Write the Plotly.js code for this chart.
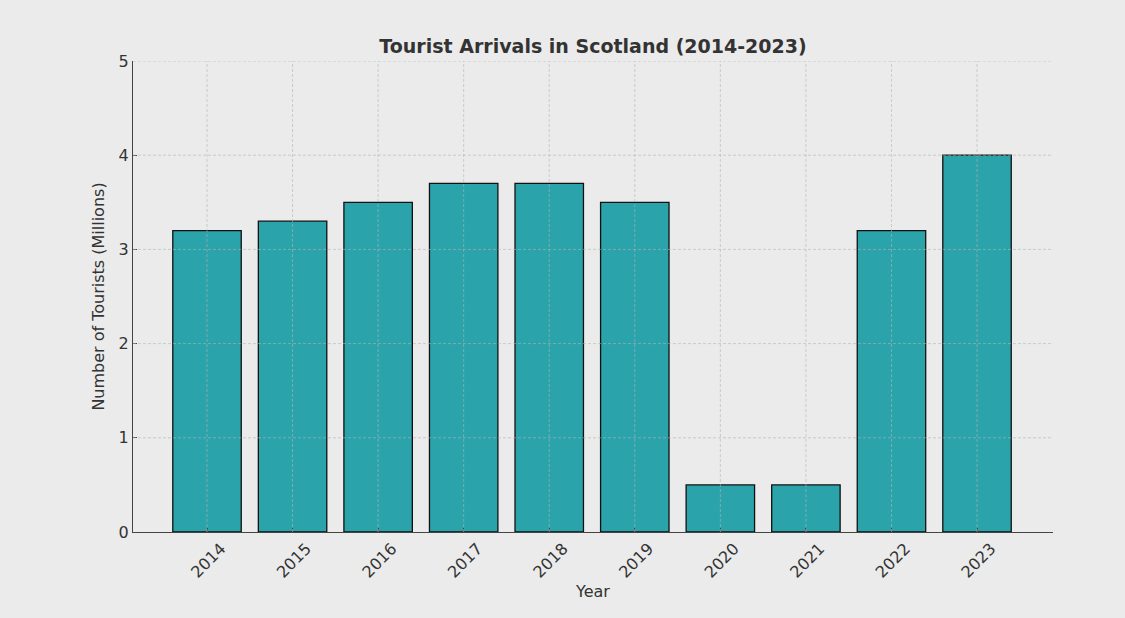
<!DOCTYPE html>
<html>
<head>
<meta charset="utf-8">
<script src="https://cdn.plot.ly/plotly-3.0.1.min.js"></script>
<style>html,body{margin:0;padding:0;background:#ebebeb;}</style>
</head>
<body>
<div id="chart" style="width:1125px;height:618px;"></div>
<script>
const years = ["2014","2015","2016","2017","2018","2019","2020","2021","2022","2023"];
const tourists = [3.2, 3.3, 3.5, 3.7, 3.7, 3.5, 0.5, 0.5, 3.2, 4.0];
const yTicks = [0, 1, 2, 3, 4, 5];

const gridStyle = {color: "rgba(180,180,180,0.6)", width: 1, dash: "3px,2px"};
const shapes = [];
years.forEach((y, i) => shapes.push({type: "line", xref: "x", yref: "paper", x0: i, x1: i, y0: 0, y1: 1, layer: "above", line: gridStyle}));
yTicks.slice(1).forEach(v => shapes.push({type: "line", xref: "paper", yref: "y", x0: 0, x1: 1, y0: v, y1: v, layer: "above", line: gridStyle}));

const trace = {
  type: "bar",
  x: years,
  y: tourists,
  width: 0.8,
  marker: {color: "#2aa3aa", line: {color: "#111", width: 1.3}},
  hoverinfo: "x+y"
};

const layout = {
  width: 1125, height: 618,
  paper_bgcolor: "#ebebeb", plot_bgcolor: "#ebebeb",
  margin: {l: 133, r: 72, t: 61, b: 86},
  font: {family: "DejaVu Sans", color: "#333", size: 16},
  showlegend: false,
  title: {text: "<b>Tourist Arrivals in Scotland (2014-2023)</b>", font: {family: "DejaVu Sans", size: 19, color: "#333"}, x: 0.5, xref: "paper", y: 1, yref: "paper", yanchor: "bottom", pad: {b: 8}},
  xaxis: {
    type: "category", range: [-0.865, 9.888],
    showgrid: false, zeroline: false,
    showline: true, linecolor: "#444", linewidth: 1,
    ticks: "inside", ticklen: 4, tickcolor: "#444",
    tickangle: -45, tickfont: {size: 16, color: "#333"},
    ticklabelshift: 14,
    title: {text: "Year", font: {size: 16, color: "#333"}, standoff: 5}
  },
  yaxis: {
    range: [0, 5], tickvals: yTicks,
    showgrid: false, zeroline: false,
    showline: true, linecolor: "#444", linewidth: 1,
    ticks: "inside", ticklen: 4, tickcolor: "#444",
    tickfont: {size: 16, color: "#333"},
    title: {text: "Number of Tourists (Millions)", font: {size: 16, color: "#333"}, standoff: 10}
  },
  shapes: shapes,
  bargap: 0.2
};

Plotly.newPlot("chart", [trace], layout, {displayModeBar: false, staticPlot: true});
</script>
</body>
</html>
